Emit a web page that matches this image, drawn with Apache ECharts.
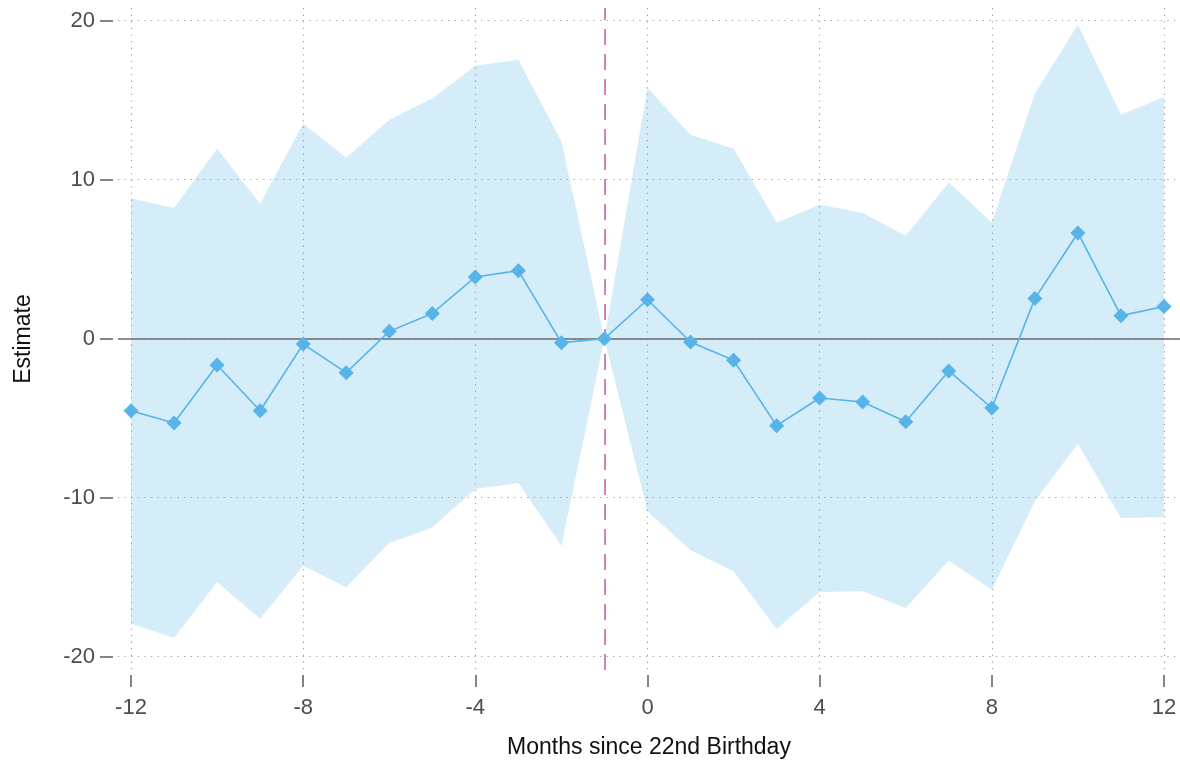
<!DOCTYPE html>
<html>
<head>
<meta charset="utf-8">
<script src="https://cdn.jsdelivr.net/npm/echarts@6/dist/echarts.min.js"></script>
<style>
  html, body { margin: 0; padding: 0; background: #ffffff; }
  #chart { width: 1180px; height: 763px; }
</style>
</head>
<body>
<div id="chart"></div>
<script>
// Event-study estimates around the 22nd birthday (reference month = -1)
const months   = [-12, -11, -10, -9, -8, -7, -6, -5, -4, -3, -2, -1, 0, 1, 2, 3, 4, 5, 6, 7, 8, 9, 10, 11, 12];
const estimate = [-4.53, -5.30, -1.66, -4.53, -0.34, -2.14, 0.46, 1.59, 3.88, 4.28, -0.25, 0, 2.45, -0.21, -1.36, -5.47, -3.73, -3.98, -5.22, -2.03, -4.36, 2.52, 6.65, 1.45, 2.03];
const ciLower  = [-17.92, -18.83, -15.30, -17.61, -14.28, -15.64, -12.85, -11.87, -9.45, -9.08, -13.02, 0, -10.86, -13.31, -14.63, -18.26, -15.93, -15.89, -16.94, -13.96, -15.79, -10.23, -6.60, -11.28, -11.21];
const ciUpper  = [8.83, 8.22, 11.95, 8.49, 13.52, 11.38, 13.77, 15.11, 17.17, 17.55, 12.41, 0, 15.77, 12.83, 11.95, 7.31, 8.43, 7.90, 6.48, 9.83, 7.31, 15.41, 19.77, 14.09, 15.20];
const xTicks = [-12, -8, -4, 0, 4, 8, 12];
const yTicks = [-20, -10, 0, 10, 20];
const eventMonth = -1;

const FONT = 'Liberation Sans, Arial, sans-serif';
const BLUE = '#56B4E9';
const gridDots = { color: '#a3a3a3', width: 1.2, type: [1.3, 5.3] };

const chart = echarts.init(document.getElementById('chart'), null, { renderer: 'canvas' });

// Confidence band: one polygon, upper bound left→right then lower bound right→left
function renderBand(params, api) {
  if (params.dataIndex !== 0) return null;
  const pts = [];
  for (let i = 0; i < months.length; i++) pts.push(api.coord([months[i], ciUpper[i]]));
  for (let i = months.length - 1; i >= 0; i--) pts.push(api.coord([months[i], ciLower[i]]));
  return {
    type: 'polygon',
    shape: { points: pts },
    style: { fill: BLUE, opacity: 0.25 },
    silent: true
  };
}

chart.setOption({
  animation: false,
  backgroundColor: '#ffffff',
  grid: { left: 118, right: 0, top: 8, bottom: 93, outerBoundsMode: 'none' },
  xAxis: {
    type: 'value',
    min: -12.302,
    max: 12.372,
    offset: 5,
    axisLine: { show: false, onZero: false },
    axisTick: { show: true, customValues: xTicks, length: 12, lineStyle: { color: '#777777', width: 1.8 } },
    axisLabel: { customValues: xTicks, margin: 22, fontSize: 22, color: '#4d4d4d', fontFamily: FONT },
    splitLine: { show: true, lineStyle: gridDots },
    name: 'Months since 22nd Birthday',
    nameLocation: 'middle',
    nameGap: 61,
    nameTextStyle: { fontSize: 23, color: '#111111', fontFamily: FONT }
  },
  yAxis: {
    type: 'value',
    min: -20.84,
    max: 20.8,
    offset: 5,
    axisLine: { show: false, onZero: false },
    axisTick: { show: true, customValues: yTicks, length: 13, lineStyle: { color: '#777777', width: 1.8 } },
    axisLabel: { customValues: yTicks, margin: 18, fontSize: 22, color: '#4d4d4d', fontFamily: FONT },
    splitLine: { show: true, lineStyle: gridDots },
    name: 'Estimate',
    nameLocation: 'middle',
    nameGap: 78,
    nameTextStyle: { fontSize: 23, color: '#111111', fontFamily: FONT }
  },
  series: [
    {
      name: 'ci',
      type: 'custom',
      silent: true,
      z: 1,
      encode: { x: 0, y: [1, 2] },
      data: months.map((m, i) => [m, ciLower[i], ciUpper[i]]),
      renderItem: renderBand,
      markLine: {
        silent: true,
        symbol: 'none',
        z: 2,
        label: { show: false },
        data: [
          { yAxis: 0, lineStyle: { color: '#6b6b6b', width: 1.6, type: 'solid' } },
          { xAxis: eventMonth, lineStyle: { color: '#D383B2', width: 2, type: [16, 9] } }
        ]
      }
    },
    {
      name: 'Estimate',
      type: 'line',
      z: 3,
      symbol: 'diamond',
      symbolSize: 15,
      itemStyle: { color: BLUE },
      lineStyle: { color: BLUE, width: 1.6 },
      data: months.map((m, i) => [m, estimate[i]])
    }
  ]
});
</script>
</body>
</html>
